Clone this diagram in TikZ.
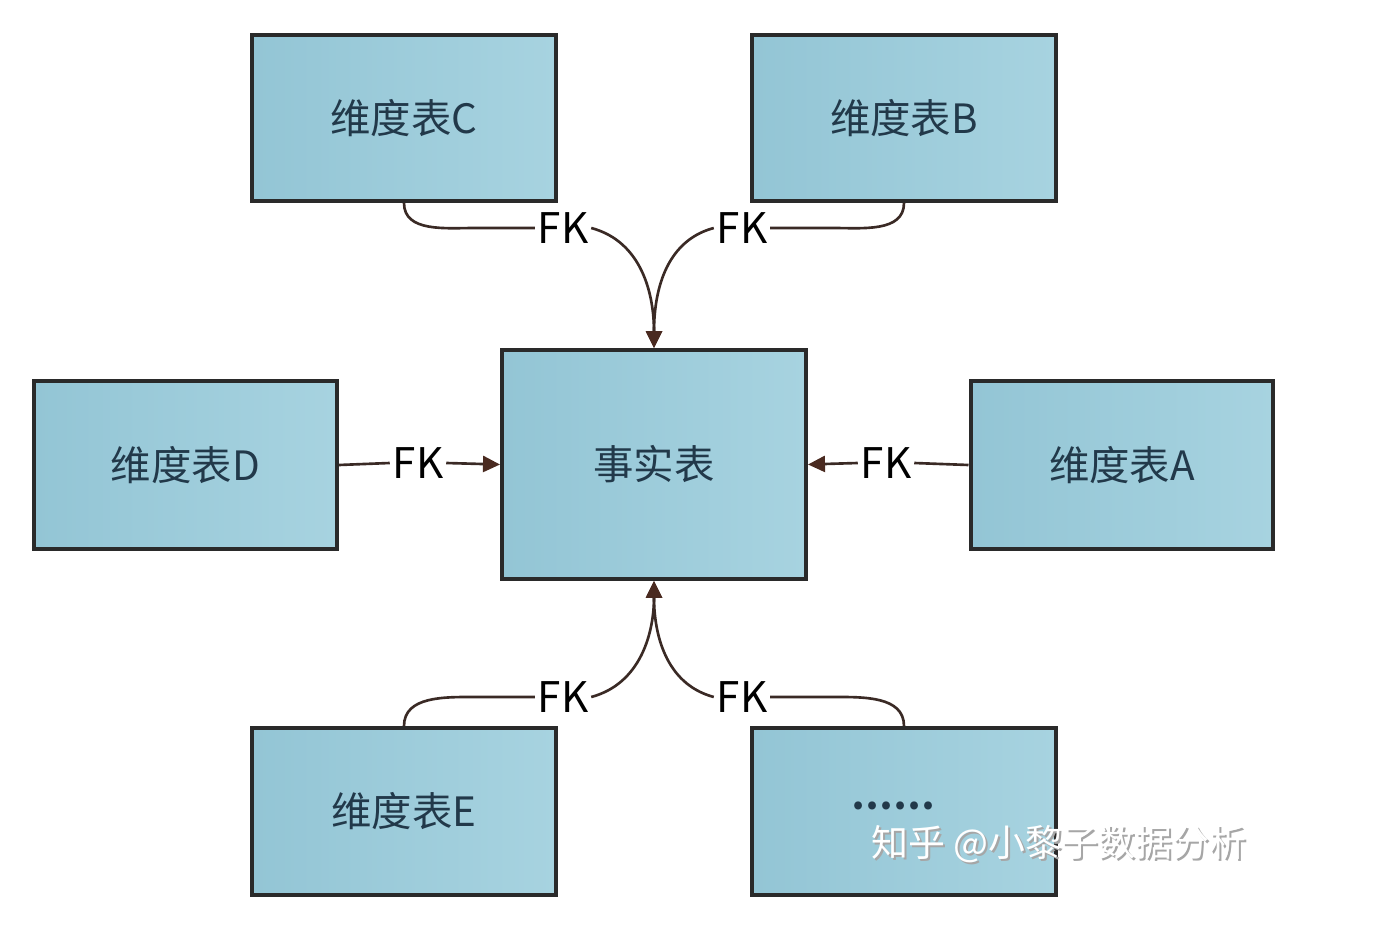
\documentclass[tikz,border=0pt]{standalone}
\usepackage{fontspec}
\setmainfont{Noto Sans CJK SC}
\usetikzlibrary{arrows.meta}
\definecolor{boxL}{HTML}{93C5D5}
\definecolor{boxR}{HTML}{A7D3E0}
\definecolor{boxline}{HTML}{2A2A2A}
\definecolor{txt}{HTML}{22394A}
\definecolor{conn}{HTML}{3A2A25}
\definecolor{head}{HTML}{4A2A20}
\tikzset{
  tbl/.style={draw=boxline, line width=2.3pt, left color=boxL, right color=boxR,
    text=txt, font=\fontsize{23}{28}\selectfont, minimum width=6.08cm, minimum height=3.32cm, inner sep=0pt},
  fk/.style={font=\fontsize{24}{28}\selectfont, text=black, inner sep=1.5pt},
  link/.style={draw=conn, line width=1.5pt},
  arr/.style={link, -{Triangle[length=0.34cm,width=0.32cm,color=head]}}
}
\begin{document}
\begin{tikzpicture}[x=0.02cm,y=-0.02cm]
\useasboundingbox[fill=white] (0,0) rectangle (1374,946);
% tables
\node[tbl] (C) at (404,118) {维度表C};
\node[tbl] (B) at (904,118) {维度表B};
\node[tbl, minimum width=6.06cm, minimum height=3.36cm] (D) at (185.5,465) {维度表D};
\node[tbl, minimum height=4.58cm] (F) at (654,464.5) {事实表};
\node[tbl, minimum width=6.06cm, minimum height=3.36cm] (A) at (1122,465) {维度表A};
\node[tbl, minimum height=3.34cm] (E) at (404,811.5) {维度表E};
\node[tbl, minimum height=3.34cm] (G) at (904,811.5) {};
\node[font=\fontsize{21}{26}\selectfont\bfseries, text=txt] (dots) at (893,806) {……};
% FK labels
\node[fk] (fkC) at (563,228) {FK};
\node[fk] (fkB) at (742,228) {FK};
\node[fk] (fkD) at (418,463) {FK};
\node[fk] (fkA) at (886,463) {FK};
\node[fk] (fkE) at (563,697) {FK};
\node[fk] (fkG) at (742,697) {FK};
% bend points
\coordinate (cC) at (475,228);
\coordinate (cB) at (833,228);
\coordinate (cE) at (475,697);
\coordinate (cG) at (833,697);
% connectors top
\draw[link] (C.south) to[out=-90,in=180] (cC) -- (fkC.west);
\draw[arr] (fkC.east) to[out=-15,in=90] (F.north);
\draw[link] (B.south) to[out=-90,in=0] (cB) -- (fkB.east);
\draw[arr] (fkB.west) to[out=195,in=90] (F.north);
% side
\draw[link] (D.east) -- (fkD.west);
\draw[arr] (fkD.east) -- (F.west);
\draw[link] (A.west) -- (fkA.east);
\draw[arr] (fkA.west) -- (F.east);
% bottom
\draw[link] (E.north) to[out=90,in=180] (cE) -- (fkE.west);
\draw[arr] (fkE.east) to[out=15,in=-90] (F.south);
\draw[link] (G.north) to[out=90,in=0] (cG) -- (fkG.east);
\draw[arr] (fkG.west) to[out=165,in=-90] (F.south);
% watermark
\node[font=\fontsize{21}{26}\selectfont, text=gray!70, anchor=west] at (867,846) {知乎 @小黎子数据分析};
\node[font=\fontsize{21}{26}\selectfont, text=white, anchor=west] (wm) at (865,844) {知乎 @小黎子数据分析};
\end{tikzpicture}
\end{document}
